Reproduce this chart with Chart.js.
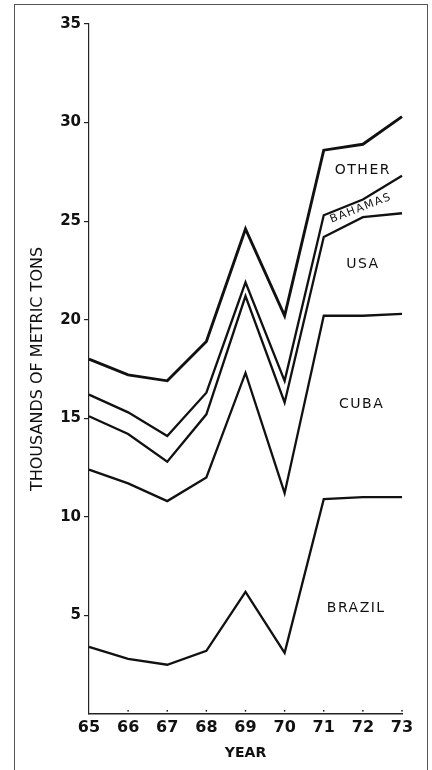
<!DOCTYPE html>
<html>
<head>
<meta charset="utf-8">
<script src="https://cdn.jsdelivr.net/npm/chart.js@4.4.0/dist/chart.umd.min.js"></script>
<style>
    html, body { margin: 0; padding: 0; background: #fff; }
    #wrap { position: relative; width: 432px; height: 770px; }
    #frame {
        position: absolute; left: 14px; top: 4px; width: 414px; height: 780px;
        border: 1.5px solid #555; box-sizing: border-box;
    }
    canvas { position: absolute; left: 0; top: 0; }
</style>
</head>
<body>
<div id="wrap">
    <div id="frame"></div>
    <canvas id="chart" width="432" height="770"></canvas>
</div>
<script>
// Years (19xx) and imports by origin, thousands of metric tons (stacked)
const years = ['65', '66', '67', '68', '69', '70', '71', '72', '73'];
const brazil  = [3.4, 2.8, 2.5, 3.2, 6.2, 3.1, 10.9, 11.0, 11.0];
const cuba    = [9.0, 8.9, 8.3, 8.8, 11.1, 8.1, 9.3, 9.2, 9.3];
const usa     = [2.7, 2.5, 2.0, 3.2, 3.9, 4.6, 4.0, 5.0, 5.1];
const bahamas = [1.1, 1.1, 1.3, 1.1, 0.7, 1.1, 1.1, 0.9, 1.9];
const other   = [1.8, 1.9, 2.8, 2.6, 2.7, 3.3, 3.3, 2.8, 3.0];
const yTicks  = [5, 10, 15, 20, 25, 30, 35];

// band labels: name, year index position, value position, angle
const bandLabels = [
    { text: 'OTHER',   x: 7.0,  y: 27.6, angle: 0,   size: 14 },
    { text: 'BAHAMAS', x: 6.95, y: 25.65, angle: -21, size: 11 },
    { text: 'USA',     x: 7.0,  y: 22.8, angle: 0,   size: 14 },
    { text: 'CUBA',    x: 6.97, y: 15.7, angle: 0,   size: 14 },
    { text: 'BRAZIL',  x: 6.83, y: 5.37, angle: 0,   size: 14 }
];

const FONT = '"DejaVu Sans", sans-serif';

const labelPlugin = {
    id: 'bandLabels',
    afterDatasetsDraw(chart) {
        const { ctx, scales } = chart;
        ctx.save();
        ctx.fillStyle = '#111';
        ctx.textAlign = 'center';
        ctx.textBaseline = 'middle';
        bandLabels.forEach(l => {
            const px = scales.x.getPixelForValue(l.x);
            const py = scales.y.getPixelForValue(l.y);
            ctx.save();
            ctx.translate(px, py);
            ctx.rotate(l.angle * Math.PI / 180);
            ctx.font = `${l.size}px ${FONT}`;
            ctx.letterSpacing = '1.5px';
            ctx.fillText(l.text, 0, 0);
            ctx.restore();
        });
        // small tick dots above the x axis
        const y0 = scales.y.getPixelForValue(0);
        years.forEach((_, i) => {
            if (i === 0) return;
            const px = scales.x.getPixelForValue(i);
            ctx.fillRect(px - 0.7, y0 - 4, 1.4, 1.6);
        });
        ctx.restore();
    }
};

const line = (label, data, width) => ({
    label,
    data,
    borderColor: '#111',
    borderWidth: width,
    pointRadius: 0,
    fill: false,
    tension: 0
});

new Chart(document.getElementById('chart').getContext('2d'), {
    type: 'line',
    data: {
        labels: years,
        datasets: [
            line('Brazil', brazil, 2.3),
            line('Cuba', cuba, 2.3),
            line('USA', usa, 2.3),
            line('Bahamas', bahamas, 2.3),
            line('Other', other, 2.9)
        ]
    },
    options: {
        responsive: false,
        animation: false,
        layout: { padding: { left: 24, right: 30, top: 24, bottom: 4 } },
        plugins: { legend: { display: false }, tooltip: { enabled: false } },
        scales: {
            x: {
                offset: false,
                grid: { display: false, drawTicks: false },
                border: { color: '#222', width: 1.5 },
                ticks: {
                    color: '#111',
                    padding: 4,
                    font: { family: FONT, size: 16, weight: 'bold' },
                    maxRotation: 0
                },
                title: {
                    display: true,
                    text: 'YEAR',
                    color: '#111',
                    padding: { top: 0 },
                    font: { family: FONT, size: 14, weight: 'bold' }
                },
                afterFit: s => { s.height = 52; }
            },
            y: {
                stacked: true,
                min: 0,
                max: 35,
                afterBuildTicks: s => { s.ticks = yTicks.map(v => ({ value: v })); },
                grid: { drawOnChartArea: false, tickLength: 5, color: '#222', lineWidth: 1.2 },
                border: { color: '#222', width: 1.2 },
                ticks: {
                    color: '#111',
                    padding: 3,
                    font: { family: FONT, size: 15, weight: 'bold' }
                },
                title: {
                    display: true,
                    text: 'THOUSANDS OF METRIC TONS',
                    color: '#111',
                    padding: { bottom: 12 },
                    font: { family: FONT, size: 16 }
                },
                afterFit: s => { s.width = 65; }
            }
        }
    },
    plugins: [labelPlugin]
});
</script>
</body>
</html>
